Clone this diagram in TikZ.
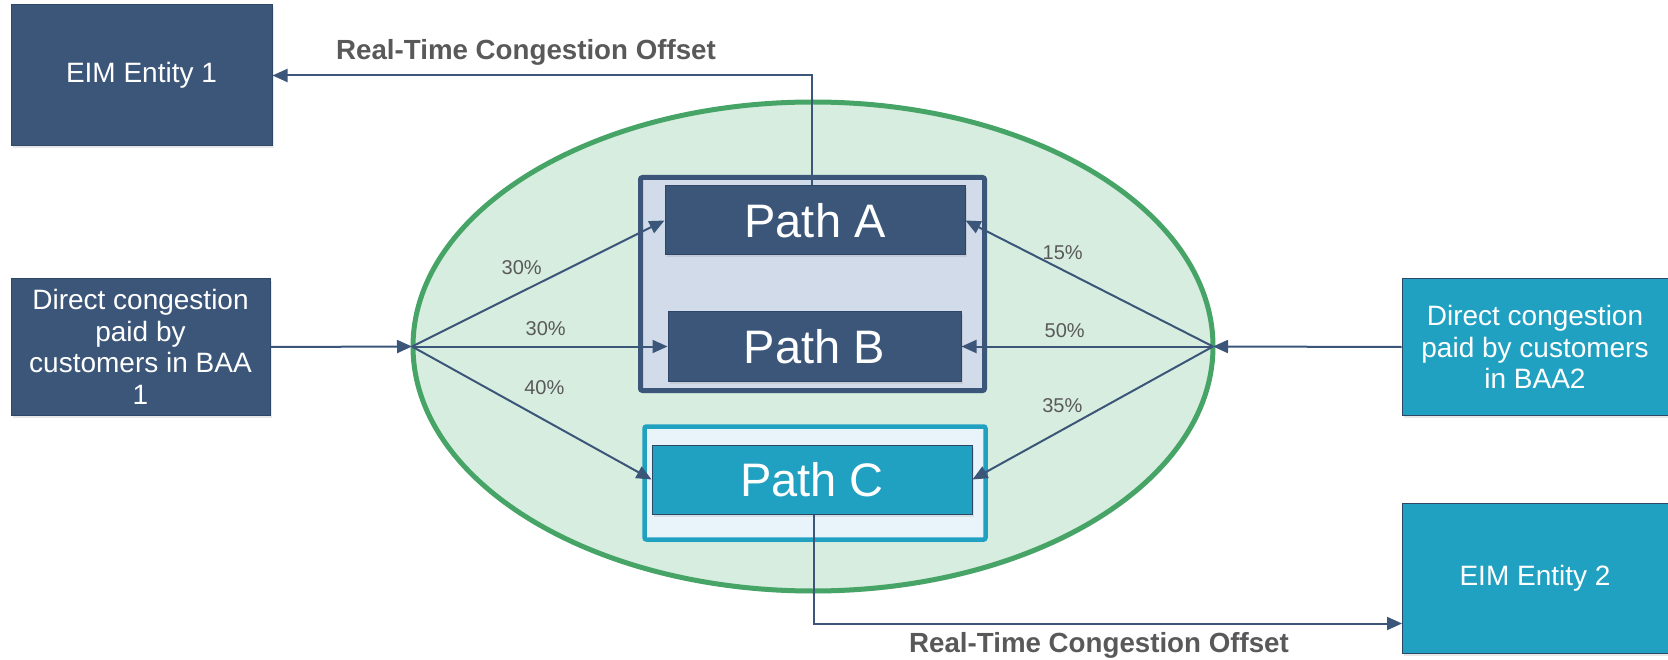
\documentclass[tikz,border=0pt]{standalone}
\usepackage{fontspec}
\setmainfont{Liberation Sans}
\usetikzlibrary{arrows.meta,shadows}

\definecolor{navy}{HTML}{3B5679}
\definecolor{navyedge}{HTML}{2F4766}
\definecolor{cteal}{HTML}{21A1C1}
\definecolor{ovalfill}{HTML}{D7EDDF}
\definecolor{ovalline}{HTML}{46A467}
\definecolor{groupab}{HTML}{D1DBE9}
\definecolor{groupc}{HTML}{E9F4FA}
\definecolor{labelgrey}{HTML}{595959}

\tikzset{
  softshadow/.style={drop shadow={opacity=0.18, shadow xshift=1.5pt, shadow yshift=-2.5pt}},
  block/.style={draw=navyedge, line width=1pt, inner sep=0pt, align=center,
    text=white, font=\fontsize{28}{31.5}\selectfont, softshadow},
  darkblock/.style={block, fill=navy},
  tealblock/.style={block, fill=cteal},
  pathbox/.style={block, font=\fontsize{47}{52}\selectfont, minimum height=69pt},
  groupbox/.style={inner sep=0pt, rounded corners=2pt, softshadow},
  conn/.style={draw=navy, line width=2pt, -{Triangle[length=15pt,width=13pt]}},
  pct/.style={text=labelgrey, font=\fontsize{20}{24}\selectfont, inner sep=0pt},
  offsetlabel/.style={text=labelgrey, font=\bfseries\fontsize{27.7}{32}\selectfont, inner sep=0pt, anchor=base},
}

\begin{document}
\begin{tikzpicture}[x=1pt,y=-1pt]
\useasboundingbox (0,0) rectangle (1668,660);

% shared area holding the three paths
\draw[fill=ovalfill, draw=ovalline, line width=5pt, softshadow]
  (813,346.5) ellipse [x radius=400, y radius=244.5];

% group frames
\node[groupbox, draw=navy, line width=5pt, fill=groupab,
      minimum width=344pt, minimum height=213pt] (grpAB) at (812.5,284) {};
\node[groupbox, draw=cteal, line width=4.5pt, fill=groupc,
      minimum width=341pt, minimum height=113pt] (grpC) at (815,483) {};

% path boxes
\node[pathbox, fill=navy, minimum width=300pt] (pathA) at (815,220.5) {Path A};
\node[pathbox, fill=navy, minimum width=293pt] (pathB) at (814.5,346.5) {Path B};
\node[pathbox, fill=cteal, minimum width=320pt] (pathC) at (812,479.5) {Path C};

% entities and balancing areas
\node[darkblock, minimum width=261pt, minimum height=141pt] (eim1) at (141.5,75.5) {EIM Entity 1};
\node[darkblock, minimum width=259pt, minimum height=136pt] (baa1) at (140.5,347)
  {Direct congestion\\paid by\\customers in BAA\\1};
\node[tealblock, minimum width=266pt, minimum height=136pt] (baa2) at (1535,347)
  {Direct congestion\\paid by customers\\in BAA2};
\node[tealblock, minimum width=266pt, minimum height=150pt] (eim2) at (1535,578) {EIM Entity 2};

% split points on the oval
\coordinate (hubL) at (412,346.5);
\coordinate (hubR) at (1213,346.5);
\coordinate (e2in) at (1402,623.5);

% flows into the split points
\draw[conn] (baa1.east) -- (hubL);
\draw[conn] (baa2.west) -- (hubR);

% allocation to paths
\draw[conn] (hubL) -- (pathA.west);
\draw[conn] (hubL) -- (pathB.west);
\draw[conn] (hubL) -- (pathC.west);
\draw[conn] (hubR) -- (pathA.east);
\draw[conn] (hubR) -- (pathB.east);
\draw[conn] (hubR) -- (pathC.east);

% offsets back to the entities
\draw[conn] ([xshift=-3pt]pathA.north) |- (eim1.east);
\draw[conn] ([xshift=2pt]pathC.south) |- (e2in);

% percentages
\node[pct] (pA1) at (521.7,267.7) {30\%};
\node[pct] (pB1) at (545.7,328.7) {30\%};
\node[pct] (pC1) at (544.3,387.7) {40\%};
\node[pct] (pA2) at (1062.7,252.3) {15\%};
\node[pct] (pB2) at (1064.7,331) {50\%};
\node[pct] (pC2) at (1062.3,405.3) {35\%};

% offset captions
\node[offsetlabel] (off1) at (526,60) {Real-Time Congestion Offset};
\node[offsetlabel] (off2) at (1099,652) {Real-Time Congestion Offset};
\end{tikzpicture}
\end{document}
